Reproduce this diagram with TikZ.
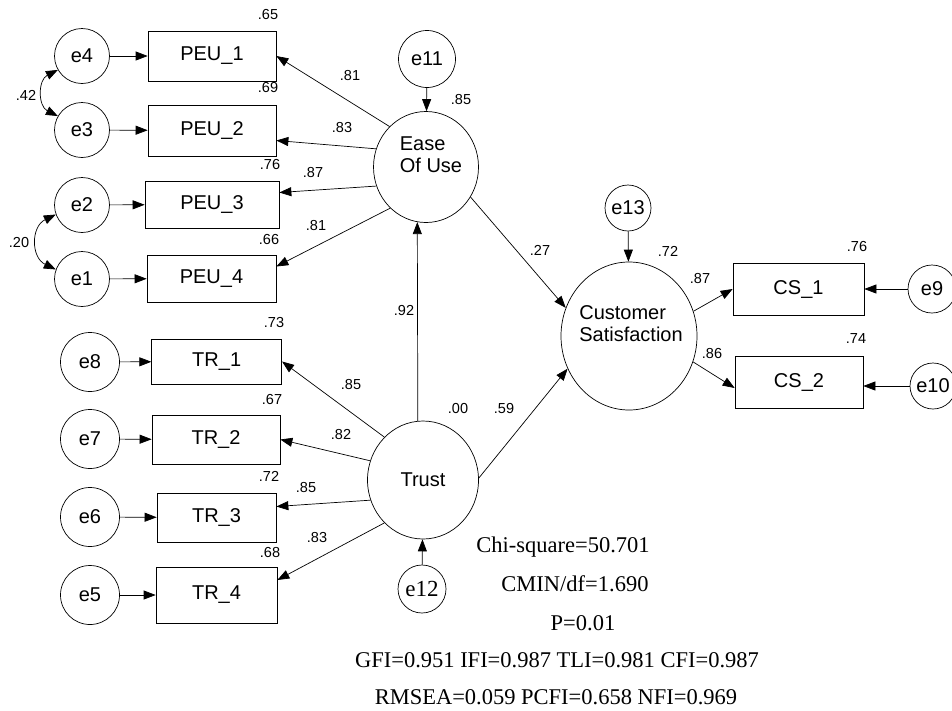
\documentclass[tikz,border=0pt]{standalone}
\usepackage{fontspec}
\setmainfont{Liberation Serif}
\setsansfont{Liberation Sans}
\usetikzlibrary{shapes.geometric,arrows.meta,positioning,calc}
\tikzset{
    errvar/.style={circle, draw, inner sep=0pt, minimum size=55pt, font=\sffamily\fontsize{20}{24}\selectfont},
    errvarT/.style={circle, draw, inner sep=0pt, minimum size=48pt, font=\fontsize{23}{27}\selectfont},
    obsbox/.style={rectangle, draw, inner sep=0pt, minimum width=128pt, minimum height=50pt, font=\sffamily\fontsize{20}{24}\selectfont},
    latent/.style={ellipse, draw, inner sep=0pt, font=\sffamily\fontsize{20}{23}\selectfont},
    lattext/.style={align=left, inner sep=0pt, font=\sffamily\fontsize{20}{22}\selectfont},
    coef/.style={inner sep=0pt, font=\sffamily\fontsize{14.5}{17}\selectfont},
    fitstat/.style={inner sep=0pt, font=\fontsize{22.5}{27}\selectfont},
    regpath/.style={-{Triangle[length=12pt,width=9pt]}},
    covpath/.style={{Triangle[length=12pt,width=9pt]}-{Triangle[length=12pt,width=9pt]}},
}

\begin{document}
\begin{tikzpicture}[x=1pt, y=-1pt, line width=0.7pt]
    \useasboundingbox (0,0) rectangle (952,710);

    % Ease of use block
    \node[errvar] (e4) at (82,56) {e4};
    \node[errvar] (e3) at (82,130) {e3};
    \node[errvar] (e2) at (82,205) {e2};
    \node[errvar] (e1) at (82,279) {e1};
    \node[obsbox] (peu1) at (212,56) {PEU\_1};
    \node[obsbox, minimum height=51pt] (peu2) at (212,130.5) {PEU\_2};
    \node[obsbox, minimum width=134pt, minimum height=47pt] (peu3) at (212,204.5) {PEU\_3};
    \node[obsbox, minimum width=129pt, minimum height=47pt] (peu4) at (211.5,278.5) {PEU\_4};
    \draw[regpath] (e4) -- (peu1);
    \draw[regpath] (e3) -- (peu2);
    \draw[regpath] (e2) -- (peu3);
    \draw[regpath] (e1) -- (peu4);
    \draw[covpath] (e4.210) .. controls +(-20,10) and +(-20,-10) .. (e3.150);
    \draw[covpath] (e2.200) .. controls +(-25,12) and +(-25,-12) .. (e1.160);

    \node[latent, minimum width=105pt, minimum height=111pt] (ease) at (426,167) {};
    \node[lattext] (easelbl) at (431,155) {Ease\\Of Use};
    \node[errvar, minimum size=57pt] (e11) at (427,59) {e11};
    \draw[regpath] (e11) -- (ease);
    \draw[regpath] (ease.132) -- (peu1.east);
    \draw[regpath] (ease.160) -- ([yshift=-10pt]peu2.east);
    \draw[regpath] (ease.201) -- ([yshift=12pt]peu3.east);
    \draw[regpath] (ease.229) -- ([yshift=12pt]peu4.east);

    % Trust block
    \node[errvar, minimum size=59pt] (e8) at (90,362) {e8};
    \node[errvar, minimum size=59pt] (e7) at (90,439) {e7};
    \node[errvar, minimum size=59pt] (e6) at (90,517) {e6};
    \node[errvar, minimum size=59pt] (e5) at (90,595) {e5};
    \node[obsbox, minimum width=130pt, minimum height=45pt] (tr1) at (216.7,361.5) {TR\_1};
    \node[obsbox, minimum height=49pt] (tr2) at (216,439.5) {TR\_2};
    \node[obsbox, minimum width=119pt, minimum height=49pt] (tr3) at (216.5,517.5) {TR\_3};
    \node[obsbox, minimum width=121pt, minimum height=56pt] (tr4) at (216.5,595) {\raisebox{5pt}{TR\_4}};
    \draw[regpath] (e8) -- (tr1);
    \draw[regpath] (e7) -- (tr2);
    \draw[regpath] (e6) -- (tr3);
    \draw[regpath] (e5) -- (tr4);

    \node[latent, minimum width=111pt, minimum height=118pt] (trust) at (423,480) {Trust};
    \node[errvarT] (e12) at (422,589) {e12};
    \draw[regpath] (e12) -- (trust);
    \draw[regpath] (trust.132) -- (tr1.east);
    \draw[regpath] (trust.160) -- (tr2.east);
    \draw[regpath] (trust.201) -- ([yshift=11pt]tr3.east);
    \draw[regpath] (trust.228) -- ([yshift=15pt]tr4.east);
    \draw[regpath] (trust.95) -- (ease.261);

    % Customer satisfaction block
    \node[latent, minimum width=136pt, minimum height=148pt] (cs) at (629,336) {};
    \node[lattext] (cslbl) at (631,323.5) {Customer\\Satisfaction};
    \node[errvar, minimum size=46pt] (e13) at (628,208) {e13};
    \node[obsbox, minimum width=131pt, minimum height=52pt] (cs1) at (798.5,289) {CS\_1};
    \node[obsbox, minimum height=52pt] (cs2) at (799,382) {CS\_2};
    \node[errvar, minimum size=48pt] (e9) at (932,289) {e9};
    \node[errvar, minimum size=46pt] (e10) at (933,386) {e10};
    \draw[regpath] (e13) -- (cs);
    \draw[regpath] (ease.-34) -- (cs.156);
    \draw[regpath] (trust.2) -- (cs.208);
    \draw[regpath] (cs.21) -- (cs1.west);
    \draw[regpath] (cs.-22) -- ([yshift=-6pt]cs2.west);
    \draw[regpath] (e9) -- (cs1);
    \draw[regpath] (e10.west) -- (e10.west -| cs2.east);

    % estimates
    \node[coef] (r2peu1) at (268,15) {.65};
    \node[coef] (r2peu2) at (268,88) {.69};
    \node[coef] (r2peu3) at (270,165) {.76};
    \node[coef] (r2peu4) at (269,240) {.66};
    \node[coef] (cove34) at (26,95) {.42};
    \node[coef] (cove12) at (19,243) {.20};
    \node[coef] (ldpeu1) at (350,76) {.81};
    \node[coef] (ldpeu2) at (342,128) {.83};
    \node[coef] (ldpeu3) at (313,173) {.87};
    \node[coef] (ldpeu4) at (316,226) {.81};
    \node[coef] (r2ease) at (461,100) {.85};
    \node[coef] (bease) at (540,250) {.27};
    \node[coef] (btrease) at (404,311) {.92};
    \node[coef] (ldtr1) at (351,384) {.85};
    \node[coef] (ldtr2) at (341,434) {.82};
    \node[coef] (ldtr3) at (306,487) {.85};
    \node[coef] (ldtr4) at (317,537) {.83};
    \node[coef] (r2tr1) at (274,323) {.73};
    \node[coef] (r2tr2) at (272,399) {.67};
    \node[coef] (r2tr3) at (269,476) {.72};
    \node[coef] (r2tr4) at (270,552) {.68};
    \node[coef] (r2trust) at (458,408) {.00};
    \node[coef] (btrust) at (504,408) {.59};
    \node[coef] (r2cs) at (668,251) {.72};
    \node[coef] (ldcs1) at (700,279) {.87};
    \node[coef] (ldcs2) at (712,353) {.86};
    \node[coef] (r2cs1) at (857,247) {.76};
    \node[coef] (r2cs2) at (856,339) {.74};

    % fit indices
    \node[fitstat] (chisq) at (563,547) {Chi-square=50.701};
    \node[fitstat] (cmin) at (575,584) {CMIN/df=1.690};
    \node[fitstat] (pval) at (583,623) {P=0.01};
    \node[fitstat] (gfi) at (557,660) {GFI=0.951 IFI=0.987 TLI=0.981 CFI=0.987};
    \node[fitstat] (rmsea) at (556,697) {RMSEA=0.059 PCFI=0.658 NFI=0.969};
\end{tikzpicture}
\end{document}
